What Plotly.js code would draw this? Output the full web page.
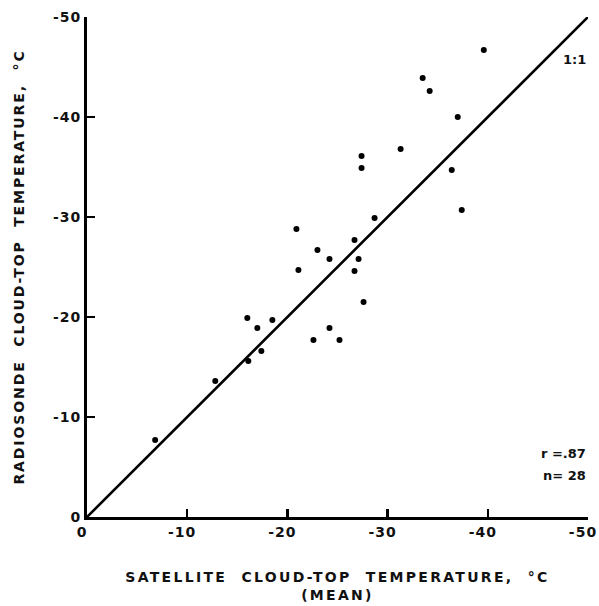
<!DOCTYPE html>
<html>
<head>
<meta charset="utf-8">
<script src="https://cdn.plot.ly/plotly-3.0.1.min.js"></script>
<style>
html,body{margin:0;padding:0;background:#fff;}
#chart{width:599px;height:606px;}
.xtitle{letter-spacing:2.3px;}
.ytitle{letter-spacing:1.9px;}
.xtick text,.ytick text{letter-spacing:1px;}
</style>
</head>
<body>
<div id="chart"></div>
<script>
// Satellite (mean) cloud-top temperature, °C
const satelliteTemp = [-6.8,-12.8,-16.1,-17.4,-16.0,-17.0,-18.5,-20.9,-21.1,-22.6,-23.0,-24.2,-24.2,-25.2,-26.7,-26.7,-27.1,-27.4,-27.4,-27.6,-28.7,-31.3,-33.5,-34.2,-37.0,-36.4,-37.4,-39.6];
// Radiosonde cloud-top temperature, °C
const radiosondeTemp = [-7.7,-13.6,-15.6,-16.6,-19.9,-18.9,-19.7,-28.8,-24.7,-17.7,-26.7,-25.8,-18.9,-17.7,-27.7,-24.6,-25.8,-36.1,-34.9,-21.5,-29.9,-36.8,-43.9,-42.6,-40.0,-34.7,-30.7,-46.7];
// 1:1 reference line
const oneToOneX = [0,-50];
const oneToOneY = [0,-50];
// tick labels
const tickValues = [0,-10,-20,-30,-40,-50];
const tickLabels = ["0","-10","-20","-30","-40","-50"];

const font = "DejaVu Sans, sans-serif";

const traces = [
  {x: oneToOneX, y: oneToOneY, mode: "lines", type: "scatter",
   line: {color: "#000", width: 2.6}, hoverinfo: "skip", showlegend: false, cliponaxis: false},
  {x: satelliteTemp, y: radiosondeTemp, mode: "markers", type: "scatter",
   marker: {color: "#000", size: 6}, showlegend: false}
];

const axisCommon = {
  range: [0,-50], autorange: false,
  showgrid: false, zeroline: false,
  showline: true, linecolor: "#000", linewidth: 3,
  ticks: "inside", ticklen: 8, tickwidth: 2.5, tickcolor: "#000",
  tickmode: "array", tickvals: tickValues, ticktext: tickLabels,
  ticklabeloverflow: "allow",
  tickfont: {family: font, size: 14, color: "#111", weight: "bold"}
};

const layout = {
  width: 599, height: 606,
  margin: {l: 87, r: 11, t: 17, b: 89},
  paper_bgcolor: "#fff", plot_bgcolor: "#fff",
  xaxis: Object.assign({}, axisCommon, {
    ticklabelshift: 5,
    title: {text: "SATELLITE  CLOUD-TOP  TEMPERATURE,  °C<br>(MEAN)",
            font: {family: font, size: 14, color: "#111", weight: "bold"}, standoff: 34}
  }),
  yaxis: Object.assign({}, axisCommon, {
    title: {text: "RADIOSONDE  CLOUD-TOP  TEMPERATURE,  °C",
            font: {family: font, size: 14, color: "#111", weight: "bold"}, standoff: 26}
  }),
  annotations: [
    {text: "1:1", x: 0.974, y: 0.914, xref: "paper", yref: "paper", showarrow: false,
     xanchor: "center", yanchor: "middle", font: {family: font, size: 13, color: "#111", weight: "bold"}},
    {text: "r =.87", x: 1.0, y: 0.128, xref: "paper", yref: "paper", showarrow: false,
     xanchor: "right", yanchor: "middle", font: {family: font, size: 13, color: "#111", weight: "bold"}},
    {text: "n= 28", x: 1.0, y: 0.084, xref: "paper", yref: "paper", showarrow: false,
     xanchor: "right", yanchor: "middle", font: {family: font, size: 13, color: "#111", weight: "bold"}}
  ]
};

Plotly.newPlot("chart", traces, layout, {displayModeBar: false, staticPlot: true});
</script>
</body>
</html>
